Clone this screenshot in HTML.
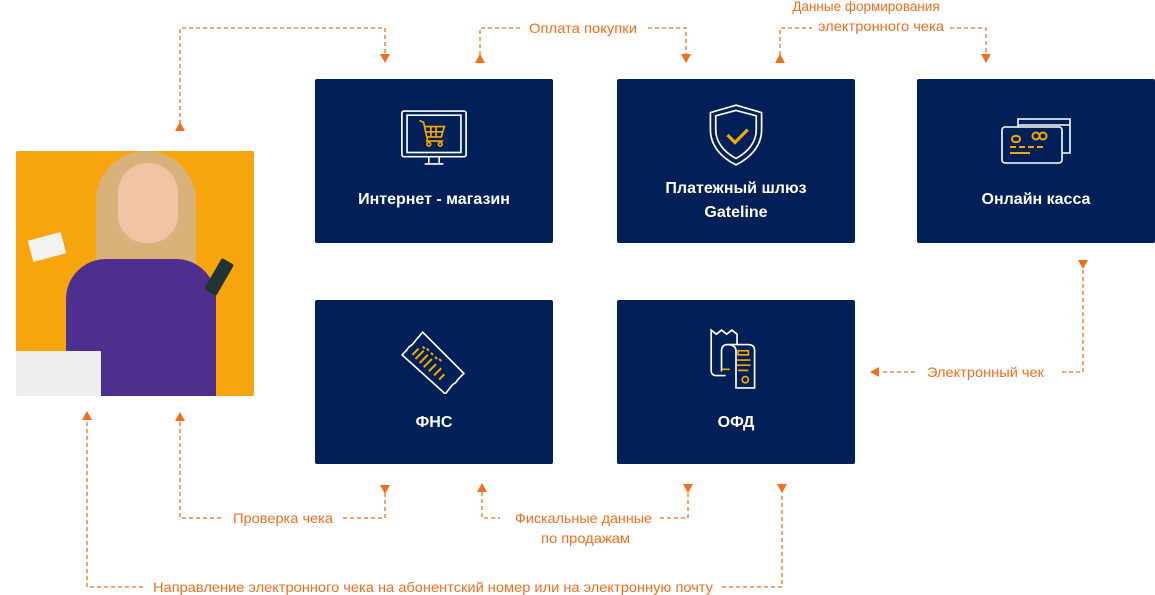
<!DOCTYPE html>
<html><head><meta charset="utf-8"><style>
html,body{margin:0;padding:0;background:#fff;width:1155px;height:595px;overflow:hidden;font-family:"Liberation Sans",sans-serif;position:relative}
.box{position:absolute;width:238px;height:164px;background:#012057;border-radius:2px;color:#fff;font-weight:bold;font-size:16px;text-align:center;line-height:24px}
.box .t{position:absolute;left:0;right:0}
.box svg{position:absolute;left:50%;transform:translateX(-50%)}
.photo{position:absolute;left:16px;top:151px;width:238px;height:245px;background:#f6a50c;border-radius:2px;overflow:hidden}
</style></head><body>
<div class="photo">
 <div style="position:absolute;left:80px;top:0;width:100px;height:190px;background:#d9b27a;border-radius:50px 50px 20px 20px"></div>
 <div style="position:absolute;left:102px;top:12px;width:60px;height:80px;background:#f0c4a4;border-radius:30px 30px 28px 28px"></div>
 <div style="position:absolute;left:50px;top:108px;width:150px;height:140px;background:#4f2f8d;border-radius:40px 40px 0 0"></div>
 <div style="position:absolute;left:14px;top:85px;width:34px;height:22px;background:#f2f2f2;transform:rotate(-15deg)"></div>
 <div style="position:absolute;left:196px;top:108px;width:14px;height:36px;background:#233;transform:rotate(30deg);border-radius:2px"></div>
 <div style="position:absolute;left:0;top:200px;width:85px;height:45px;background:#eeeeee"></div>
</div>

<div class="box" style="left:315px;top:79px">
 <svg style="top:30px" width="70" height="58" viewBox="0 0 66 56" fill="none" stroke="#fff" stroke-width="1.6"><rect x="2" y="2" width="62" height="44" rx="2"/><rect x="7" y="6" width="52" height="36"/><path d="M28 46v6M38 46v6M24 53h18"/><g stroke="#f5a800"><path d="M19 11l4 2 3 14h14l3-10H24M27 27l-1 4h16"/><circle cx="28" cy="34" r="1.8"/><circle cx="39" cy="34" r="1.8"/><path d="M30 17v10M35 17v10M25 22h16"/></g></svg>
 <div class="t" style="top:109px">Интернет - магазин</div>
</div>
<div class="box" style="left:617px;top:79px">
 <svg style="top:24px" width="64" height="64" viewBox="0 0 60 60" fill="none" stroke="#fff" stroke-width="1.6"><path d="M30 2L6 9v16c0 15 10 26 24 33 14-7 24-18 24-33V9z"/><path d="M30 7L11 12v13c0 12 8 21 19 27 11-6 19-15 19-27V12z"/><path d="M22 30l7 7 12-12" stroke="#f5a800" stroke-width="3"/></svg>
 <div class="t" style="top:98px">Платежный шлюз<br>Gateline</div>
</div>
<div class="box" style="left:917px;top:79px">
 <svg style="top:36px" width="72" height="50" viewBox="0 0 72 50" fill="none" stroke="#fff" stroke-width="1.6"><path d="M18 12V4h52v34h-8"/><path d="M18 10h52"/><rect x="2" y="12" width="60" height="36" rx="3"/><g stroke="#f5a800" stroke-width="2"><rect x="12" y="21" width="8" height="6" rx="3"/><circle cx="36" cy="21" r="3.5"/><circle cx="43" cy="21" r="3.5"/><path d="M10 32h6M19 32h6M28 32h6M37 32h6M10 38h20"/></g></svg>
 <div class="t" style="top:109px">Онлайн касса</div>
</div>
<div class="box" style="left:315px;top:300px">
 <svg style="top:28px" width="68" height="66" viewBox="0 0 66 64" fill="none" stroke="#fff" stroke-width="1.6"><path d="M24 2l40 40-5 5 0 0-3 4-3 2-4 5-3 4L4 24l4-4 3-4 3-2 4-5z" transform="translate(-2,2)"/><g stroke="#f5a800" stroke-width="2"><path d="M12 26l6-6M15 30l8-8M19 34l8-8M23 38l8-8M28 42l7-7M33 46l7-7M38 50l5-5M22 18l2 2M26 20l2 2M30 24l2 2M34 28l2 2M38 30l2 2"/></g></svg>
 <div class="t" style="top:111px">ФНС</div>
</div>
<div class="box" style="left:617px;top:300px">
 <svg style="top:28px" width="54" height="62" viewBox="0 0 52 60" fill="none" stroke="#fff" stroke-width="1.6"><path d="M2 42V2l5 4 5-4 5 4 5-4 5 4v10"/><path d="M2 42c0 2 2 4 4 4h10"/><path d="M18 16h20c4 0 6 2 6 6v36H26V22c0-4-4-6-8-6s-6 2-6 6v20"/><g stroke="#f5a800" stroke-width="1.6"><rect x="28" y="22" width="10" height="4"/><path d="M27 31h13M27 36h13M28 41h10M12 40h8"/><circle cx="35" cy="50" r="3"/></g></svg>
 <div class="t" style="top:111px">ОФД</div>
</div>

<svg style="position:absolute;left:0;top:0" width="1155" height="595">
<g fill="none" stroke="#f26d1e" stroke-width="1.3" stroke-dasharray="4,3">
 <path d="M180 124V28H385V55"/>
 <path d="M480 55V28H520"/><path d="M648 28H686V55"/>
 <path d="M780 55V28H812"/><path d="M950 28H986V55"/>
 <path d="M1083 270V372H1060"/><path d="M915 372H880"/>
 <path d="M180 422V518H222"/><path d="M343 518H385V492"/>
 <path d="M482 492V518H500"/><path d="M660 518H688V492"/>
 <path d="M87 422V587H145"/><path d="M722 587H782V492"/>
</g>
<g fill="#f26d1e">
 <path d="M175 131h10l-5-9z"/>
 <path d="M380 54h10l-5 9z"/>
 <path d="M475 63h10l-5-9z"/>
 <path d="M681 54h10l-5 9z"/>
 <path d="M775 63h10l-5-9z"/>
 <path d="M981 54h10l-5 9z"/>
 <path d="M1078 260h10l-5 9z"/>
 <path d="M879 367v10l-9-5z"/>
 <path d="M175 421h10l-5-9z"/>
 <path d="M82 420h10l-5-9z"/>
 <path d="M380 485h10l-5 9z"/>
 <path d="M477 492h10l-5-9z"/>
 <path d="M683 484h10l-5 9z"/>
 <path d="M777 484h10l-5 9z"/>
</g>
<g fill="#f26d1e" font-family="Liberation Sans, sans-serif" font-size="14">
 <text x="529" y="33" textLength="108" lengthAdjust="spacingAndGlyphs">Оплата покупки</text>
 <text x="866" y="11" font-size="13.5" text-anchor="middle">Данные формирования</text>
 <text x="818" y="31" textLength="126" lengthAdjust="spacingAndGlyphs">электронного чека</text>
 <text x="927" y="377" textLength="117" lengthAdjust="spacingAndGlyphs">Электронный чек</text>
 <text x="233" y="523" textLength="100" lengthAdjust="spacingAndGlyphs">Проверка чека</text>
 <text x="515" y="523" textLength="137" lengthAdjust="spacingAndGlyphs">Фискальные данные</text>
 <text x="541" y="543" textLength="89" lengthAdjust="spacingAndGlyphs">по продажам</text>
 <text x="153" y="592" textLength="560" lengthAdjust="spacingAndGlyphs">Направление электронного чека на абонентский номер или на электронную почту</text>
</g>
</svg>
</body></html>
